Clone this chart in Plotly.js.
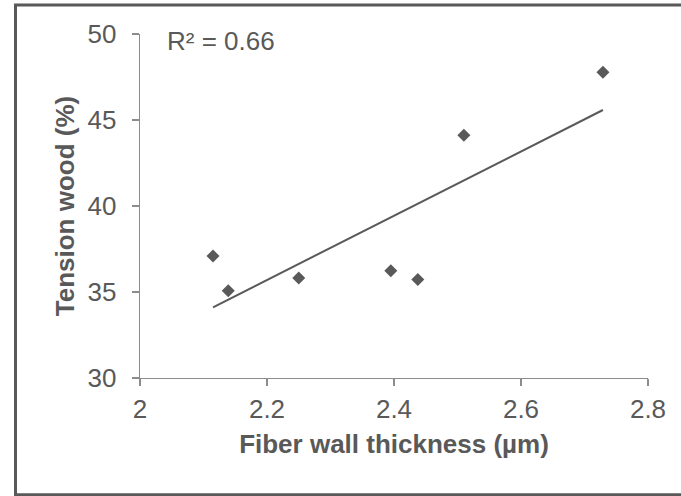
<!DOCTYPE html>
<html>
<head>
<meta charset="utf-8">
<script src="https://cdn.plot.ly/plotly-3.0.1.min.js"></script>
<style>html,body{margin:0;padding:0;background:#fff;}#chart{width:681px;height:496px;}</style>
</head>
<body>
<div id="chart"></div>
<script>
// Data
const fiberWallThickness = [2.115, 2.139, 2.250, 2.395, 2.4375, 2.510, 2.729];
const tensionWood = [37.10, 35.07, 35.82, 36.23, 35.73, 44.12, 47.78];
const xTickVals = [2, 2.2, 2.4, 2.6, 2.8];
const xTickText = ['2', '2.2', '2.4', '2.6', '2.8'];
const yTickVals = [30, 35, 40, 45, 50];
const yTickText = ['30', '35', '40', '45', '50'];

// Linear least-squares trendline (as Excel computes it)
const n = fiberWallThickness.length;
const mx = fiberWallThickness.reduce((a, b) => a + b, 0) / n;
const my = tensionWood.reduce((a, b) => a + b, 0) / n;
let sxy = 0, sxx = 0, syy = 0;
for (let i = 0; i < n; i++) {
  const dx = fiberWallThickness[i] - mx, dy = tensionWood[i] - my;
  sxy += dx * dy; sxx += dx * dx; syy += dy * dy;
}
const slope = sxy / sxx;
const intercept = my - slope * mx;
const r2 = (sxy * sxy) / (sxx * syy);
const xMin = Math.min(...fiberWallThickness), xMax = Math.max(...fiberWallThickness);
const trendX = [xMin, xMax];
const trendY = trendX.map(x => intercept + slope * x);

const textColor = '#595959';
const axisColor = '#8c8c8c';
const font = 'Liberation Sans, Arial, sans-serif';

const traces = [
  {
    x: trendX, y: trendY, type: 'scatter', mode: 'lines',
    line: {color: '#595959', width: 2}, hoverinfo: 'skip', showlegend: false
  },
  {
    x: fiberWallThickness, y: tensionWood, type: 'scatter', mode: 'markers',
    marker: {symbol: 'diamond', size: 10, color: '#595959'}, showlegend: false
  }
];

// plot area: left 140, right 648, top 33.5, bottom 378
const L = 140, R = 648, T = 33.5, B = 378;
const W = R - L, H = B - T;
const px = v => (v - L) / W;
const py = v => (B - v) / H;

const layout = {
  width: 681, height: 496,
  margin: {l: L, r: 681 - R, t: T, b: 496 - B, pad: 0},
  paper_bgcolor: '#ffffff', plot_bgcolor: '#ffffff',
  font: {family: font, color: textColor, size: 26},
  xaxis: {
    range: [2, 2.8], tickvals: xTickVals, ticktext: xTickText,
    showgrid: false, zeroline: false, showline: true, linecolor: axisColor, linewidth: 1.3,
    ticks: 'outside', ticklen: 7, tickcolor: axisColor, tickwidth: 1.3,
    tickfont: {family: font, size: 26, color: textColor},
    title: {text: '<b>Fiber wall thickness (µm)</b>', font: {family: font, size: 26, color: textColor}, standoff: 12}
  },
  yaxis: {
    range: [30, 50], tickvals: yTickVals, ticktext: yTickText,
    showgrid: false, zeroline: false, showline: true, linecolor: axisColor, linewidth: 1.3,
    ticks: 'outside', ticklen: 7, tickcolor: axisColor, tickwidth: 1.3,
    ticklabelstandoff: 10,
    tickfont: {family: font, size: 26, color: textColor},
    title: {text: '<b>Tension wood (%)</b>', font: {family: font, size: 26, color: textColor}, standoff: 5}
  },
  annotations: [{
    xref: 'paper', yref: 'paper', x: px(165), y: py(41), xanchor: 'left', yanchor: 'middle',
    text: 'R² = ' + r2.toFixed(2), showarrow: false,
    font: {family: font, size: 26, color: textColor}
  }],
  shapes: [{
    type: 'rect', xref: 'paper', yref: 'paper',
    x0: px(15.5), x1: px(684), y0: py(494.8), y1: py(4.5),
    line: {color: '#595959', width: 3}, fillcolor: 'rgba(0,0,0,0)', layer: 'above'
  }]
};

Plotly.newPlot('chart', traces, layout, {displayModeBar: false, staticPlot: true});
</script>
</body>
</html>
